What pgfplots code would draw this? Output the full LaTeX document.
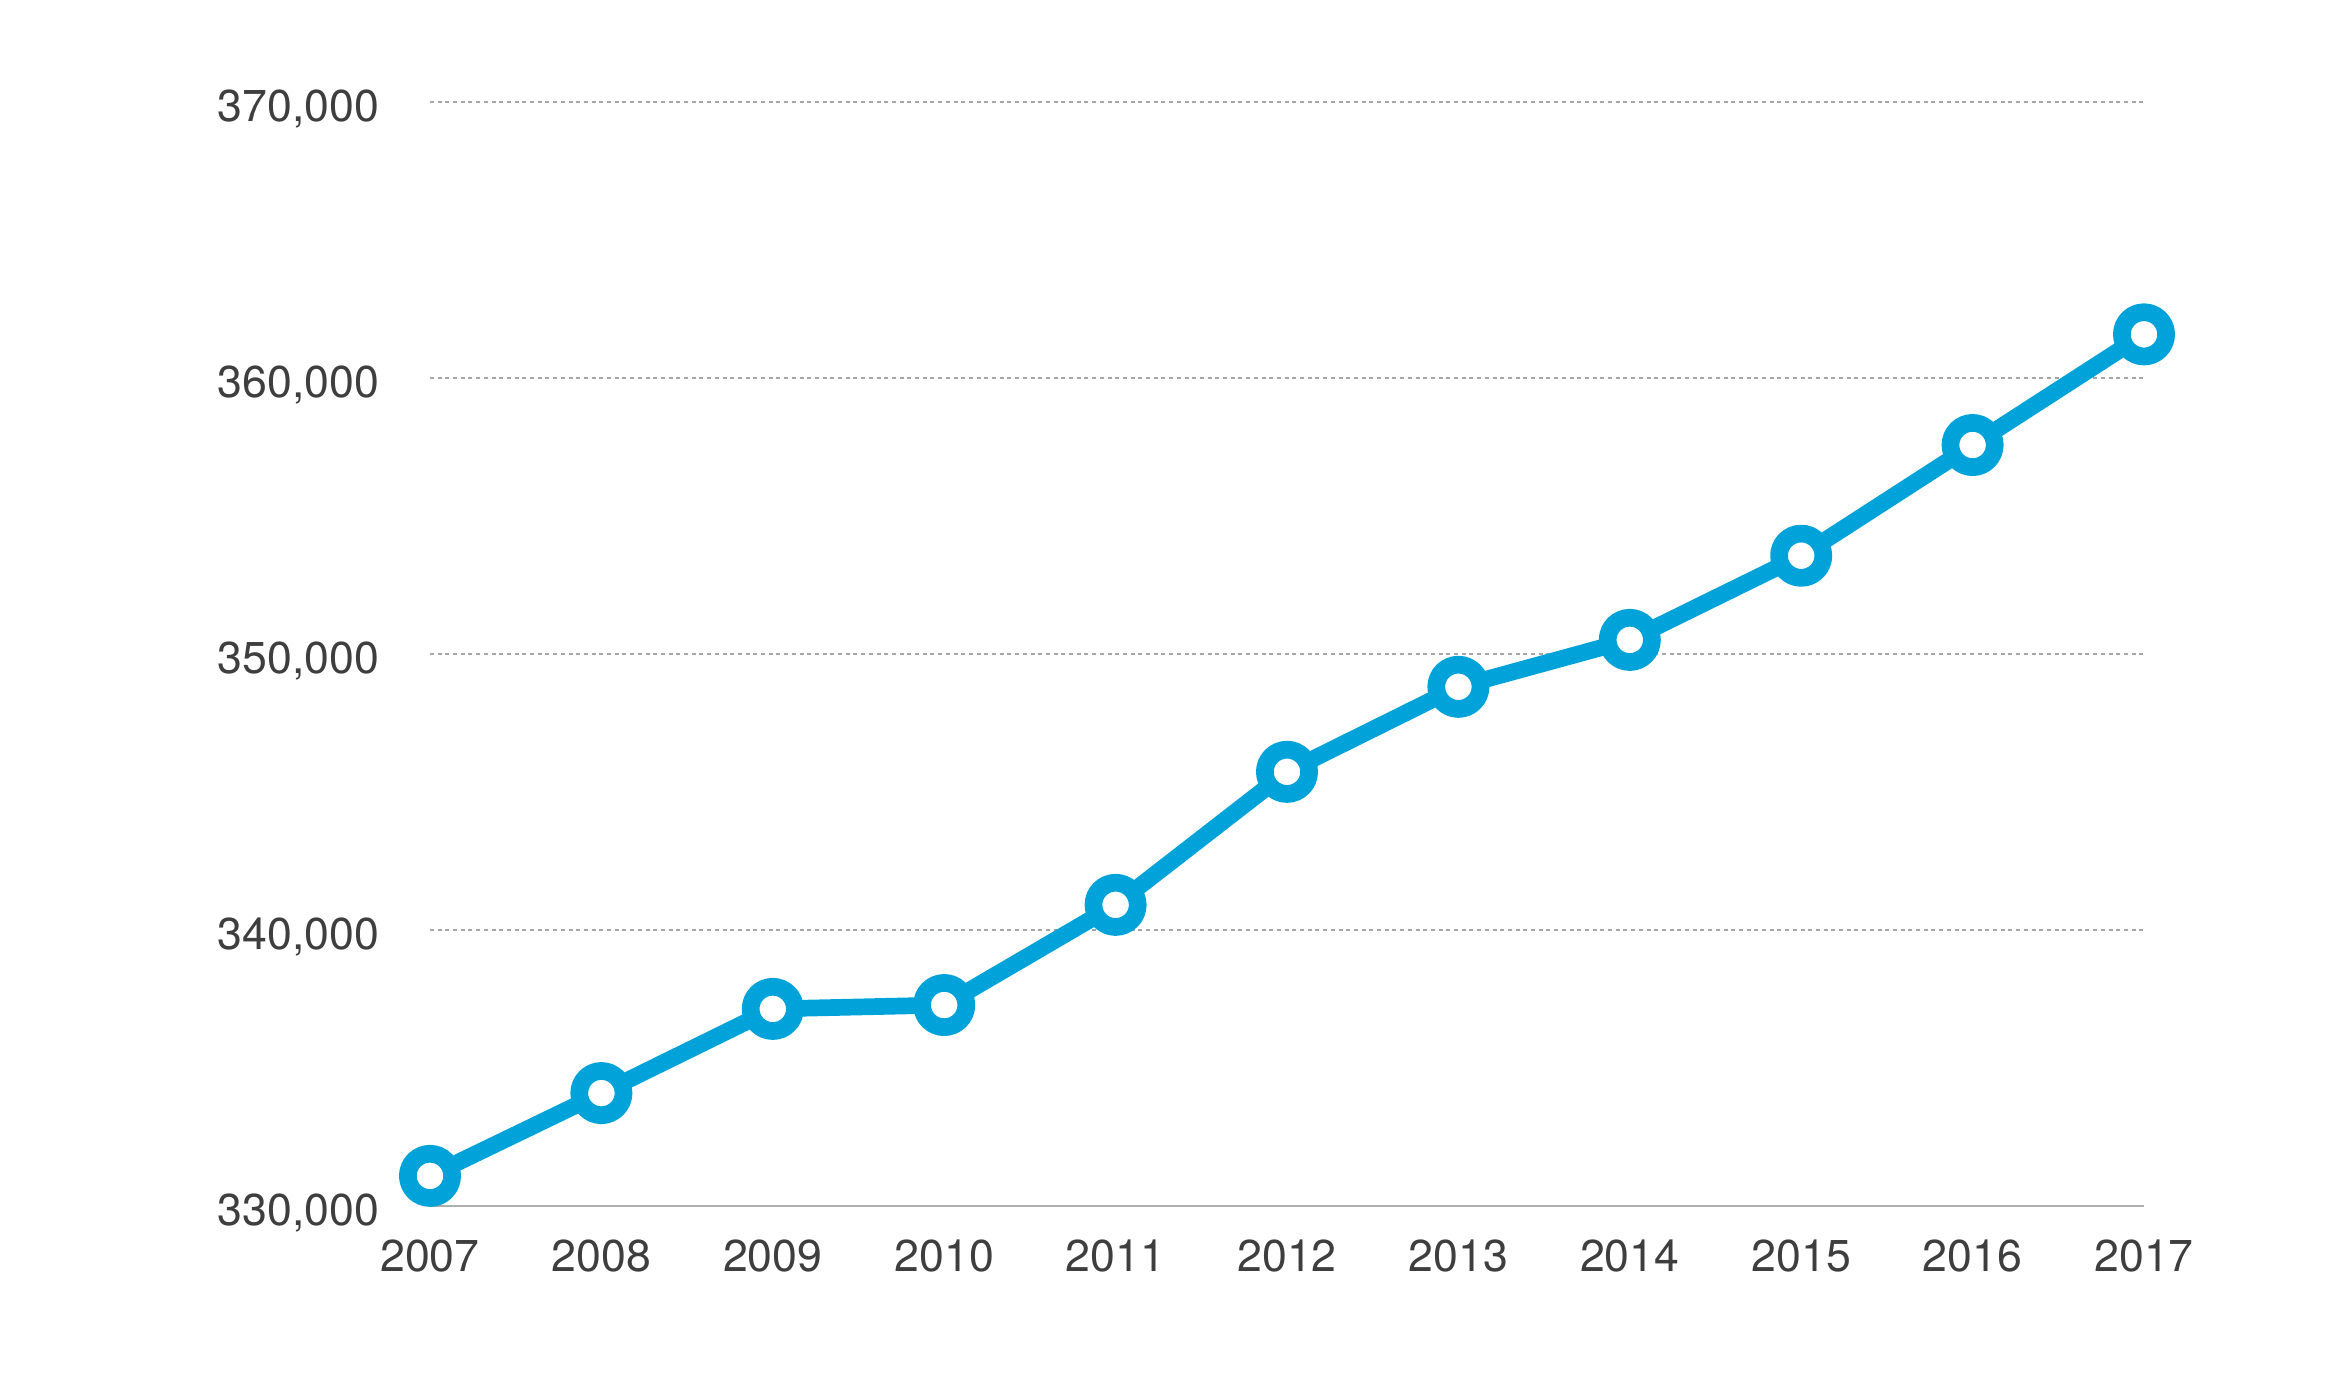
\documentclass[border=0pt]{standalone}
\usepackage{fontspec}
\setmainfont{TeX Gyre Heros}
\usepackage{pgfplots}
\pgfplotsset{compat=1.18}
\definecolor{lineblue}{RGB}{0,163,217}
\definecolor{txtgray}{RGB}{62,62,62}
\definecolor{gridgray}{RGB}{166,166,166}
\definecolor{axgray}{RGB}{175,175,175}
\begin{document}
\begin{tikzpicture}
\useasboundingbox (-43mm,-17.43mm) rectangle (191mm,120.57mm);
\begin{axis}[
  at={(0,0)}, anchor=south west,
  scale only axis, width=171.4mm, height=110.4mm,
  xmin=2007, xmax=2017, ymin=330000, ymax=370000,
  clip=false,
  axis x line*=bottom, axis y line*=left,
  x axis line style={draw=axgray, line width=0.2mm, -},
  y axis line style={draw=none},
  major tick length=0pt,
  tick style={draw=none},
  xtick={2007,2008,2009,2010,2011,2012,2013,2014,2015,2016,2017},
  xticklabels={2007,2008,2009,2010,2011,2012,2013,2014,2015,2016,2017},
  ytick={330000,340000,350000,360000,370000},
  yticklabels={{330,000},{340,000},{350,000},{360,000},{370,000}},
  scaled y ticks=false,
  ymajorgrids,
  grid style={draw=gridgray, line width=0.23mm, dash pattern=on 0.4mm off 0.37mm},
  xticklabel style={anchor=base, inner sep=0pt, yshift=-6.6mm, text=txtgray, font=\fontsize{12.7pt}{15pt}\selectfont},
  yticklabel style={anchor=base east, inner sep=0pt, xshift=-5.0mm, yshift=-2.03mm, text=txtgray, font=\fontsize{12.7pt}{15pt}\selectfont},
]
\addplot[draw=lineblue, line width=1.67mm, line join=round,
  mark=*, mark size=6.3pt,
  mark options={fill=white, draw=lineblue, line width=1.77mm}]
  coordinates {
  (2007,331080) (2008,334080) (2009,337130) (2010,337270) (2011,340900)
  (2012,345720) (2013,348800) (2014,350500) (2015,353550) (2016,357560)
  (2017,361570)
  };
\end{axis}
\end{tikzpicture}
\end{document}
